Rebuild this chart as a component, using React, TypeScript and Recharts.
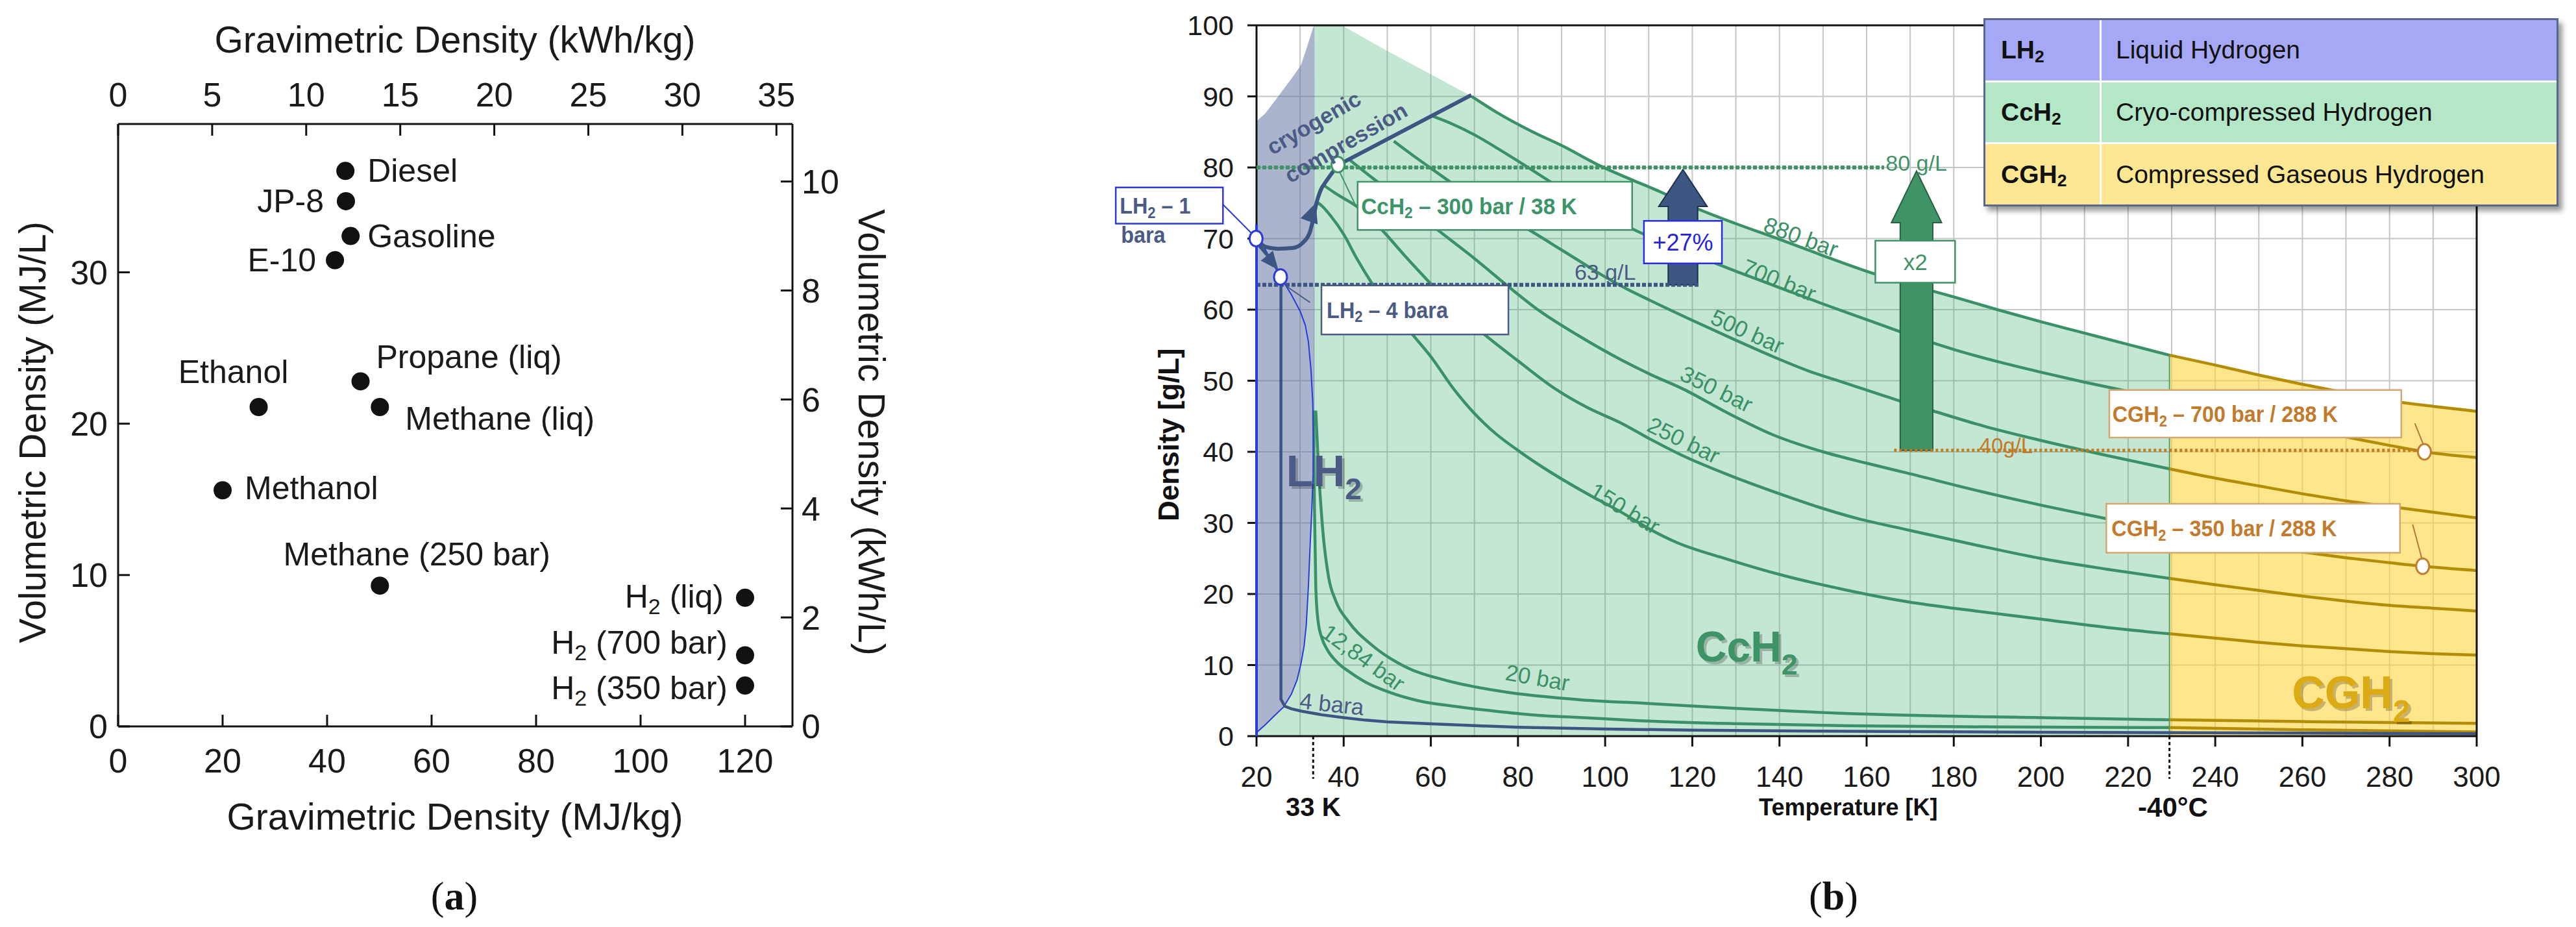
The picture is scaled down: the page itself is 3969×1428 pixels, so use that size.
import React from 'react';
import {
  ScatterChart, Scatter, XAxis, YAxis, ComposedChart, Line, Area,
  CartesianGrid, ReferenceLine, ReferenceArea,
} from 'recharts';

const FONT = "'Liberation Sans', Arial, Helvetica, sans-serif";
const SERIF = "'Liberation Serif', 'Times New Roman', serif";

/* ================= Panel (a) data ================= */
const fuelNames = ['Diesel', 'JP-8', 'Gasoline', 'E-10', 'Propane (liq)', 'Methane (liq)', 'Ethanol', 'Methanol', 'Methane (250 bar)', 'H_2 (liq)', 'H_2 (700 bar)', 'H_2 (350 bar)'];
const gravimetricMJkg = [43.5, 43.6, 44.5, 41.5, 46.4, 50.1, 26.9, 20.0, 50.1, 120, 120, 120];
const volumetricMJL = [36.7, 34.7, 32.4, 30.8, 22.8, 21.1, 21.1, 15.6, 9.3, 8.5, 4.7, 2.7];
const gravTicksMJ = [0, 20, 40, 60, 80, 100, 120];
const gravTicksKWh = [0, 5, 10, 15, 20, 25, 30, 35];
const volTicksMJ = [0, 10, 20, 30];
const volTicksKWh = [0, 2, 4, 6, 8, 10];
const MJ_PER_KWH = 3.6;
const GRAV_MAX = 129.07;
const VOL_MAX = 39.8;

const fuelData = fuelNames.map((name, i) => ({ name, x: gravimetricMJkg[i], y: volumetricMJL[i] }));

const fuelLabelPlacement: Record<string, { dx: number; dy: number; anchor: string }> = {
  'Diesel': { dx: 34, dy: 0, anchor: 'start' },
  'JP-8': { dx: -34, dy: 0, anchor: 'end' },
  'Gasoline': { dx: 26, dy: 0, anchor: 'start' },
  'E-10': { dx: -29, dy: 0, anchor: 'end' },
  'Propane (liq)': { dx: 24, dy: -37, anchor: 'start' },
  'Methane (liq)': { dx: 39, dy: 18, anchor: 'start' },
  'Ethanol': { dx: -39, dy: -54, anchor: 'middle' },
  'Methanol': { dx: 34, dy: -3, anchor: 'start' },
  'Methane (250 bar)': { dx: 57, dy: -48, anchor: 'middle' },
  'H_2 (liq)': { dx: -33, dy: -2, anchor: 'end' },
  'H_2 (700 bar)': { dx: -27, dy: -19, anchor: 'end' },
  'H_2 (350 bar)': { dx: -27, dy: 4, anchor: 'end' },
};

/* ================= Panel (b) data ================= */
const tempTicks = [20, 40, 60, 80, 100, 120, 140, 160, 180, 200, 220, 240, 260, 280, 300];
const densityTicks = [0, 10, 20, 30, 40, 50, 60, 70, 80, 90, 100];
const gridTemps = [20, 30, 40, 50, 60, 70, 80, 90, 100, 110, 120, 130, 140, 150, 160, 170, 180, 190, 200, 210, 220, 230, 240, 250, 260, 270, 280, 290, 300];
const gridDensities = [0, 10, 20, 30, 40, 50, 60, 70, 80, 90, 100];

// isobars in the cryo-compressed (green) zone
const iso880Cc = [[69.4, 90], [75, 87.8], [83.4, 85.0], [90, 83.1], [99.3, 80.1], [106, 78.3], [112.6, 76.6], [120, 74.5], [130, 72.1], [140, 69.9], [150, 67.6], [160, 65.4], [170, 63.5], [180, 61.8], [190, 60.0], [200, 58.3], [210, 56.7], [220, 55.1], [229.5, 53.6]];
const iso700Cc = [[60.5, 87.2], [65, 86.1], [70, 84.6], [75, 82.8], [80, 80.9], [90, 77.0], [100, 73.3], [110, 70.3], [120, 67.8], [130, 65.4], [140, 63.1], [150, 60.8], [160, 58.6], [170, 56.4], [180, 54.4], [190, 52.7], [200, 51.2], [210, 49.8], [220, 48.5], [229.5, 47.3]];
const iso500Cc = [[51.5, 83.7], [55, 82.1], [60, 79.9], [63.2, 78.5], [70, 75.6], [76, 73.4], [82.3, 71.3], [90, 68.4], [95, 66.5], [100, 64.6], [105, 62.9], [110, 61.4], [120, 58.5], [130, 55.7], [138.5, 53.4], [147, 51.3], [155, 49.7], [166.9, 47.3], [175, 45.8], [187, 43.6], [200, 41.6], [215, 39.5], [229.5, 37.6]];
const iso350Cc = [[41.5, 81.0], [45, 79.3], [50, 76.9], [55, 74.5], [61.6, 71.2], [70, 67.2], [77.5, 63.4], [85, 59.8], [94, 56.3], [103.8, 52.9], [110, 51.0], [118, 48.8], [128, 45.5], [138.5, 42.4], [150, 40.0], [160, 38.4], [169.4, 37.0], [185, 34.6], [200, 32.5], [215, 30.6], [229.5, 28.8]];
const iso250Cc = [[35.2, 77.6], [38, 76.4], [43.5, 74.3], [48.8, 71.2], [54, 67.6], [60.5, 63.3], [66, 59.8], [72.7, 56.3], [80, 52.8], [88.7, 48.8], [96, 46.2], [103.8, 44.0], [110, 41.9], [118, 39.4], [128.5, 36.7], [140, 34.1], [149.6, 32.1], [158, 30.6], [168.8, 29.1], [185, 26.9], [200, 25.0], [215, 23.5], [229.5, 22.2]];
const iso150Cc = [[33.7, 75.2], [35, 74.6], [37, 73.2], [40, 70.6], [43, 67.2], [46.7, 63.5], [51, 59.9], [56.2, 56.2], [60, 53.4], [65.3, 48.8], [70, 45.4], [75, 42.5], [80, 40.2], [85.5, 37.9], [95, 34.4], [104, 31.4], [110, 29.2], [116.2, 27.3], [128, 24.9], [140.9, 22.6], [155, 20.6], [169.4, 18.9], [185, 17.6], [200.9, 16.4], [215, 15.3], [229.5, 14.4]];
const iso20Cc = [[33.6, 45.8], [34.2, 38], [35.2, 29], [36.5, 22.5], [38.2, 19.0], [41, 16.2], [46.5, 12.8], [54, 9.8], [63.8, 7.8], [76.2, 6.3], [94.7, 5.1], [110, 4.6], [130, 3.9], [160, 3.1], [200, 2.6], [229.5, 2.3]];
const iso1284Cc = [[33.1, 45.8], [33.3, 32], [33.6, 21], [34.1, 16.3], [35, 13.8], [36.2, 12.2], [38.5, 10.4], [41.4, 9.0], [45, 7.6], [50.8, 6.1], [57, 5.0], [65.4, 4.2], [75, 3.5], [83.2, 3.0], [95, 2.6], [107.2, 2.2], [130, 1.75], [156, 1.45], [190, 1.3], [229.5, 1.2]];

// isobars in the compressed-gas (yellow) zone
const iso880Cg = [[229.5, 53.6], [240, 52.2], [250, 50.8], [260, 49.5], [270, 48.3], [280, 47.2], [290, 46.4], [300, 45.7]];
const iso700Cg = [[229.5, 47.3], [240, 45.9], [250, 44.6], [260, 43.3], [270, 42.1], [280, 40.9], [288, 40.0], [300, 39.2]];
const iso500Cg = [[229.5, 37.6], [240, 36.3], [250, 35.2], [260, 34.1], [270, 33.1], [280, 32.3], [290, 31.5], [300, 30.7]];
const iso350Cg = [[229.5, 28.8], [240, 27.7], [250, 26.7], [260, 25.9], [270, 25.1], [280, 24.4], [287.6, 23.9], [300, 23.3]];
const iso250Cg = [[229.5, 22.2], [240, 21.3], [250, 20.5], [260, 19.7], [270, 19.0], [280, 18.4], [290, 18.0], [300, 17.6]];
const iso150Cg = [[229.5, 14.4], [240, 13.8], [250, 13.2], [260, 12.7], [270, 12.3], [280, 11.9], [290, 11.6], [300, 11.4]];
const iso20Cg = [[229.5, 2.3], [260, 2.05], [300, 1.8]];
const iso1284Cg = [[229.5, 1.2], [260, 0.9], [300, 0.6]];

const iso4bara = [[25.6, 64.2], [25.6, 5.2], [26.5, 4.2], [28, 3.85], [30.5, 3.5], [35, 3.0], [40, 2.6], [45, 2.25], [50, 2.0], [60, 1.74], [70, 1.48], [80, 1.25], [100, 1.0], [120, 0.85], [150, 0.7], [200, 0.55], [250, 0.45], [300, 0.35]];

const saturationDome = [[20, 70.8], [22.5, 67.9], [25.5, 64.6], [28, 62.1], [30, 59.8], [31.2, 57.8], [31.9, 55.5], [32.5, 51.5], [32.9, 47], [33.05, 42], [33.0, 37], [32.7, 32], [32.3, 26.8], [31.9, 21], [31.4, 15.5], [30.9, 12.6], [30.2, 10.2], [29.3, 7.9], [28, 5.9], [26.2, 4.1], [24, 2.8], [22, 1.6], [20, 0.5]];

const cryoPathCurve = [[20, 69.9], [22.0, 68.85], [24.85, 68.57], [28.27, 68.67], [30.55, 69.37], [32.26, 70.94], [33.11, 73.04], [33.68, 74.79], [34.54, 76.54], [36.25, 78.29], [38.82, 80.38]];
const cryoPathStraight = [[38.82, 80.38], [69.3, 90.2]];
const lh2ArrowShaft = [[20.5, 69.1], [23.0, 67.3]];

// regions
const lh2RegionLow = [[20, 0.5], [22, 1.6], [24, 2.8], [26.2, 4.1], [28, 5.9], [29.3, 7.9], [30.2, 10.2], [31.4, 15.5], [32.3, 26.8], [33.0, 37], [33.3, 45]];
const lh2RegionHigh = [[20, 86.5], [22, 87.6], [24, 89.2], [26.2, 91.0], [28, 92.5], [29.3, 93.6], [30.2, 94.4], [31.4, 96.6], [32.3, 98.3], [33.0, 99.7], [33.3, 100]];
const ccRegionTop = [...lh2RegionLow.slice(0, 10), [33.3, 100], [39.6, 100], [50, 96.4], [60, 93.1], ...iso880Cc];
const cgRegionTop = iso880Cg;

/* ================= geometry ================= */
const PB = { left: 1936, top: 39, right: 3816, bottom: 1134 };
const CB = { left: 1650, top: 0, w: 2319, h: 1300 };
const T_MIN = 20, T_MAX = 300, D_MIN = 0, D_MAX = 100;
const pxT = (PB.right - PB.left) / (T_MAX - T_MIN);
const pxD = (PB.bottom - PB.top) / (D_MAX - D_MIN);
const ovX = [T_MIN - (PB.left - CB.left) / pxT, T_MAX + (CB.left + CB.w - PB.right) / pxT];
const ovY = [D_MIN - (CB.top + CB.h - PB.bottom) / pxD, D_MAX + (PB.top - CB.top) / pxD];

const pts = (arr: number[][]) => arr.map(([t, d]) => ({ t, d }));

const regionRows = (() => {
  const map = new Map<number, any>();
  const put = (t: number, k: string, v: any) => {
    if (!map.has(t)) map.set(t, { t });
    map.get(t)[k] = v;
  };
  ccRegionTop.forEach(([t, d]) => put(t, 'cc', d));
  cgRegionTop.forEach(([t, d]) => put(t, 'cg', d));
  lh2RegionLow.forEach(([t, lo], i) => put(t, 'lh2', [lo, lh2RegionHigh[i][1]]));
  return Array.from(map.values()).sort((a, b) => a.t - b.t);
})();

/* ================= annotations (panel b) ================= */
const GREEN = '#3b9167';
const GOLD = '#b38c08';
const SLATE = '#3c5583';
const SLATE_TXT = '#4b5b86';
const BLUE = '#2b3bd8';
const ORANGE_TXT = '#c27a2c';

const arrows = [
  { x1: 112.3, x2: 123.4, y1: 63.5, y2: 79.7, fill: '#3d5782', stroke: '#1f2f4f', shaft: 0.61, head: 0.32 },
  { x1: 165.7, x2: 177.2, y1: 40.2, y2: 79.5, fill: '#3f9467', stroke: '#2a5f44', shaft: 0.65, head: 0.185 },
];

const dottedLines = [
  { a: [20, 80], b: [164, 80], color: '#3f9467', w: 6, dash: '6 3' },
  { a: [20, 63.5], b: [121.5, 63.5], color: SLATE, w: 6, dash: '6 3' },
  { a: [166.3, 40.2], b: [288, 40.2], color: '#c47a20', w: 5, dash: '4 4' },
];

const leaders = [
  { a: [12.3, 74.8], b: [19.1, 70.6], color: BLUE },
  { a: [27.1, 63.2], b: [32.3, 61.0], color: SLATE_TXT },
  { a: [38.9, 79.6], b: [42.8, 74.6], color: '#3f9467' },
  { a: [285.8, 44.0], b: [287.9, 40.8], color: '#b07a3a' },
  { a: [285.3, 29.8], b: [287.5, 24.8], color: '#b07a3a' },
];

const boxes = [
  { x1: -12.3, x2: 12.3, y1: 72.1, y2: 77.2, stroke: BLUE },
  { x1: 34.9, x2: 77.8, y1: 56.5, y2: 63.4, stroke: SLATE_TXT },
  { x1: 43.2, x2: 106.2, y1: 71.2, y2: 78.0, stroke: '#3f9467' },
  { x1: 108.9, x2: 126.8, y1: 66.5, y2: 72.5, stroke: '#2b2be0' },
  { x1: 162, x2: 180.3, y1: 63.8, y2: 69.7, stroke: '#3f9467' },
  { x1: 215.7, x2: 282.7, y1: 42.0, y2: 48.7, stroke: '#d4a672' },
  { x1: 215.0, x2: 282.4, y1: 25.8, y2: 32.7, stroke: '#d4a672' },
];

const markers = [
  { t: 19.9, d: 70.0, stroke: BLUE },
  { t: 25.5, d: 64.6, stroke: BLUE },
  { t: 38.7, d: 80.4, stroke: '#3f9467' },
  { t: 288, d: 40.0, stroke: '#c0802f' },
  { t: 287.6, d: 23.9, stroke: '#c0802f' },
];

const heads = [
  { t: 33.6, d: 75.0, angle: -70, len: 30, wid: 28, color: SLATE },
  { t: 25.0, d: 65.6, angle: 51, len: 28, wid: 24, color: SLATE },
];

const notes: any[] = [
  { t: -11.4, d: 74.65, text: 'LH_2 – 1', size: 36, color: SLATE_TXT, anchor: 'start', weight: 'bold', sx: 0.9 },
  { t: -11.1, d: 70.6, text: 'bara', size: 36, color: SLATE_TXT, anchor: 'start', weight: 'bold', sx: 0.9 },
  { t: 36.1, d: 60.0, text: 'LH_2 – 4 bara', size: 36, color: SLATE_TXT, anchor: 'start', weight: 'bold', sx: 0.9 },
  { t: 44.0, d: 74.6, text: 'CcH_2 – 300 bar / 38 K', size: 36, color: '#3c9468', anchor: 'start', weight: 'bold', sx: 0.93 },
  { t: 117.85, d: 69.5, text: '+27%', size: 36, color: '#2424d6' },
  { t: 171.2, d: 66.75, text: 'x2', size: 35, color: '#3f9467' },
  { t: 216.4, d: 45.35, text: 'CGH_2 – 700 bar / 288 K', size: 36, color: ORANGE_TXT, anchor: 'start', weight: 'bold', sx: 0.9 },
  { t: 216.2, d: 29.25, text: 'CGH_2 – 350 bar / 288 K', size: 36, color: ORANGE_TXT, anchor: 'start', weight: 'bold', sx: 0.9 },
  { t: 171.4, d: 80.6, text: '80 g/L', size: 34, color: '#3f9467' },
  { t: 100, d: 65.3, text: '63 g/L', size: 34, color: SLATE_TXT },
  { t: 192, d: 40.9, text: '40g/L', size: 33, color: ORANGE_TXT },
  { t: 33.1, d: 86.3, text: 'cryogenic', size: 34, color: SLATE_TXT, angle: -30, weight: 'bold' },
  { t: 40.5, d: 83.5, text: 'compression', size: 34, color: SLATE_TXT, angle: -30, weight: 'bold' },
  { t: 145, d: 70.3, text: '880 bar', size: 35, color: GREEN, angle: 20 },
  { t: 140, d: 64.2, text: '700 bar', size: 35, color: GREEN, angle: 22 },
  { t: 132.7, d: 57.0, text: '500 bar', size: 35, color: GREEN, angle: 24 },
  { t: 125.6, d: 48.9, text: '350 bar', size: 35, color: GREEN, angle: 26 },
  { t: 118.1, d: 41.7, text: '250 bar', size: 35, color: GREEN, angle: 26 },
  { t: 104.6, d: 32.1, text: '150 bar', size: 35, color: GREEN, angle: 31 },
  { t: 84.5, d: 8.3, text: '20 bar', size: 35, color: GREEN, angle: 10 },
  { t: 44.6, d: 11.1, text: '12,84 bar', size: 35, color: GREEN, angle: 36 },
  { t: 37.3, d: 4.6, text: '4 bara', size: 35, color: SLATE_TXT, angle: 6 },
  { t: 26.8, d: 35.2, text: 'LH_2', size: 68, color: '#4b5b86', anchor: 'start', weight: 'bold', base: 'alpha', shadow: true },
  { t: 120.8, d: 10.5, text: 'CcH_2', size: 66, color: '#3f9467', anchor: 'start', weight: 'bold', base: 'alpha', shadow: true },
  { t: 257.6, d: 3.9, text: 'CGH_2', size: 70, color: '#dcaa14', anchor: 'start', weight: 'bold', base: 'alpha', shadow: true },
  { t: 155.8, d: -9.95, text: 'Temperature [K]', size: 36, color: '#111', weight: 'bold' },
  { t: 33, d: -9.95, text: '33 K', size: 40, color: '#111', weight: 'bold' },
  { t: 230.3, d: -9.95, text: '-40°C', size: 42, color: '#111', weight: 'bold' },
  { t: -0.26, d: 42.4, text: 'Density [g/L]', size: 44, color: '#111', weight: 'bold', angle: -90 },
];

const legendRows = [
  { code: 'LH_2', name: 'Liquid Hydrogen', bg: '#a6a8f6' },
  { code: 'CcH_2', name: 'Cryo-compressed Hydrogen', bg: '#b3e7c8' },
  { code: 'CGH_2', name: 'Compressed Gaseous Hydrogen', bg: '#fde793' },
];

/* ================= helpers ================= */
function chem(text: string, fs: number) {
  const parts = text.split('_2');
  const nodes: any[] = [];
  const sh = fs * 0.3;
  parts.forEach((p, i) => {
    if (i === 0) {
      if (p) nodes.push(<tspan key={`p${i}`}>{p}</tspan>);
      return;
    }
    nodes.push(<tspan key={`s${i}`} fontSize={fs * 0.68} dy={sh}>2</tspan>);
    if (p) nodes.push(<tspan key={`p${i}`} dy={-sh}>{p}</tspan>);
  });
  return nodes;
}

function chemHtml(text: string) {
  const parts = text.split('_2');
  const nodes: any[] = [];
  parts.forEach((p, i) => {
    if (i > 0) nodes.push(<span key={`s${i}`} style={{ fontSize: '0.68em', position: 'relative', top: '0.38em' }}>2</span>);
    if (p) nodes.push(<span key={`p${i}`}>{p}</span>);
  });
  return nodes;
}

const FuelDot = (props: any) => {
  const { cx, cy, payload } = props;
  const pl = fuelLabelPlacement[payload.name];
  return (
    <g>
      <circle cx={cx} cy={cy} r={14} fill="#111" />
      <text x={cx + pl.dx} y={cy + pl.dy} textAnchor={pl.anchor} dominantBaseline="central" fontSize={50} fontFamily={FONT} fill="#1a1a1a">
        {chem(payload.name, 50)}
      </text>
    </g>
  );
};

const NoteShape = (props: any) => {
  const { cx, cy, payload: n } = props;
  const tr = `translate(${cx} ${cy}) rotate(${n.angle || 0}) scale(${n.sx || 1} 1)`;
  const common = {
    textAnchor: n.anchor || 'middle',
    dominantBaseline: n.base === 'alpha' ? 'alphabetic' : 'central',
    fontSize: n.size,
    fontWeight: n.weight || 'normal',
    fontFamily: FONT,
  } as any;
  return (
    <g transform={tr}>
      {n.shadow ? (
        <text x={4} y={4} {...common} fill="rgba(0,0,0,0.22)">{chem(n.text, n.size)}</text>
      ) : null}
      <text x={0} y={0} {...common} fill={n.color}>{chem(n.text, n.size)}</text>
    </g>
  );
};

const MarkerShape = (props: any) => {
  const { cx, cy, payload: m } = props;
  return <ellipse cx={cx} cy={cy} rx={10} ry={12} fill="#fff" stroke={m.stroke} strokeWidth={3} />;
};

const HeadShape = (props: any) => {
  const { cx, cy, payload: h } = props;
  return (
    <polygon
      points={`0,0 ${-h.len},${-h.wid / 2} ${-h.len},${h.wid / 2}`}
      transform={`translate(${cx} ${cy}) rotate(${h.angle})`}
      fill={h.color}
    />
  );
};

const makeArrowShape = (a: any) => (p: any) => {
  const { x, y, width, height } = p;
  const cx = x + width / 2;
  const top = y;
  const bottom = y + height;
  const hw = width / 2;
  const sw = (width * a.shaft) / 2;
  const hb = top + height * a.head;
  const poly = `${cx},${top} ${cx + hw},${hb} ${cx + sw},${hb} ${cx + sw},${bottom} ${cx - sw},${bottom} ${cx - sw},${hb} ${cx - hw},${hb}`;
  return <polygon points={poly} fill={a.fill} stroke={a.stroke} strokeWidth={2} />;
};

const Overlay = ({ children }: { children: any }) => (
  <div style={{ position: 'absolute', left: CB.left, top: CB.top, width: CB.w, height: CB.h }}>
    <ComposedChart width={CB.w} height={CB.h} margin={{ top: 0, right: 0, bottom: 0, left: 0 }}>
      <XAxis hide type="number" dataKey="t" domain={ovX} allowDataOverflow />
      <YAxis hide type="number" dataKey="d" domain={ovY} allowDataOverflow />
      {children}
    </ComposedChart>
  </div>
);

const absText = (style: any, content: any) => (
  <div style={{ position: 'absolute', transform: 'translate(-50%, -50%)', whiteSpace: 'nowrap', fontFamily: FONT, color: '#1a1a1a', ...style }}>{content}</div>
);

/* ================= App ================= */
export default function App() {
  const axA = { stroke: '#111', strokeWidth: 3 };
  const tickA = { fontSize: 52, fill: '#1a1a1a', fontFamily: FONT };
  const axB = { stroke: '#111', strokeWidth: 3 };

  const ccLines = [iso880Cc, iso700Cc, iso500Cc, iso350Cc, iso250Cc, iso150Cc, iso20Cc, iso1284Cc];
  const cgLines = [iso880Cg, iso700Cg, iso500Cg, iso350Cg, iso250Cg, iso150Cg, iso20Cg, iso1284Cg];

  return (
    <div style={{ position: 'relative', width: 3969, height: 1428, background: '#fff', overflow: 'hidden' }}>
      <style>{'body{margin:0;}'}</style>

      {/* ---------- Panel (a) ---------- */}
      <div style={{ position: 'absolute', left: 0, top: 0 }}>
        <ScatterChart width={1400} height={1428} margin={{ top: 111, right: 99, bottom: 229, left: 102 }}>
          <XAxis xAxisId="mj" orientation="bottom" type="number" dataKey="x" domain={[0, GRAV_MAX]} ticks={gravTicksMJ} interval={0}
            height={80} tickSize={-18} tickMargin={52} axisLine={axA} tickLine={axA} tick={tickA} />
          <XAxis xAxisId="kwh" orientation="top" type="number" dataKey={(p: any) => p.x / MJ_PER_KWH} domain={[0, GRAV_MAX / MJ_PER_KWH]} ticks={gravTicksKWh} interval={0}
            height={80} tickSize={-18} tickMargin={45} axisLine={axA} tickLine={axA} tick={tickA} />
          <YAxis yAxisId="mj" orientation="left" type="number" dataKey="y" domain={[0, VOL_MAX]} ticks={volTicksMJ} interval={0}
            width={80} tickSize={-18} tickMargin={34} axisLine={axA} tickLine={axA} tick={tickA} />
          <YAxis yAxisId="kwh" orientation="right" type="number" dataKey={(p: any) => p.y / MJ_PER_KWH} domain={[0, VOL_MAX / MJ_PER_KWH]} ticks={volTicksKWh} interval={0}
            width={80} tickSize={-18} tickMargin={32} axisLine={axA} tickLine={axA} tick={tickA} />
          <Scatter xAxisId="kwh" yAxisId="kwh" data={fuelData} shape={() => <g />} isAnimationActive={false} />
          <Scatter xAxisId="mj" yAxisId="mj" data={fuelData} shape={FuelDot} isAnimationActive={false} />
        </ScatterChart>
      </div>
      {absText({ left: 701, top: 61, fontSize: 57 }, 'Gravimetric Density (kWh/kg)')}
      {absText({ left: 701, top: 1258, fontSize: 57 }, 'Gravimetric Density (MJ/kg)')}
      {absText({ left: 50, top: 666, fontSize: 57, transform: 'translate(-50%, -50%) rotate(-90deg)' }, 'Volumetric Density (MJ/L)')}
      {absText({ left: 1343, top: 666, fontSize: 57, transform: 'translate(-50%, -50%) rotate(90deg)' }, 'Volumetric Density (kWh/L)')}
      {absText({ left: 700, top: 1380, fontSize: 62, fontFamily: SERIF, color: '#111' }, <span>(<b>a</b>)</span>)}
      {absText({ left: 2825, top: 1380, fontSize: 62, fontFamily: SERIF, color: '#111' }, <span>(<b>b</b>)</span>)}

      {/* ---------- Panel (b) base ---------- */}
      <div style={{ position: 'absolute', left: CB.left, top: CB.top, width: CB.w, height: CB.h }}>
        <ComposedChart width={CB.w} height={CB.h} data={regionRows}
          margin={{ top: PB.top - CB.top, left: PB.left - CB.left - 100, right: CB.left + CB.w - PB.right, bottom: CB.top + CB.h - PB.bottom - 100 }}>
          <CartesianGrid verticalValues={gridTemps} horizontalValues={gridDensities} stroke="#c6c6c6" strokeWidth={2} />
          <XAxis type="number" dataKey="t" domain={[T_MIN, T_MAX]} ticks={tempTicks} interval={0} height={100}
            tickSize={16} tickMargin={31} axisLine={axB} tickLine={axB} tick={{ fontSize: 44, fill: '#1a1a1a', fontFamily: FONT }} />
          <YAxis type="number" domain={[D_MIN, D_MAX]} ticks={densityTicks} interval={0} width={100}
            tickSize={14} tickMargin={21} axisLine={axB} tickLine={axB} tick={{ fontSize: 43, fill: '#1a1a1a', fontFamily: FONT }} />
          <Area dataKey="cc" type="linear" stroke="none" fill="#3aae6c" fillOpacity={0.3} connectNulls dot={false} activeDot={false} isAnimationActive={false} />
          <Area dataKey="cg" type="linear" stroke="none" fill="#ffd640" fillOpacity={0.6} connectNulls dot={false} activeDot={false} isAnimationActive={false} />
          <Area dataKey="lh2" type="linear" stroke="none" fill="#55699a" fillOpacity={0.5} connectNulls dot={false} activeDot={false} isAnimationActive={false} />
          <ReferenceLine segment={[{ x: 229.5, y: 0 }, { x: 229.5, y: 53.6 }]} stroke="#4fa36f" strokeWidth={2} />
          {ccLines.map((arr, i) => (
            <Line key={`cc${i}`} data={pts(arr)} dataKey="d" type="monotone" stroke={GREEN} strokeWidth={4.5} dot={false} activeDot={false} isAnimationActive={false} />
          ))}
          {cgLines.map((arr, i) => (
            <Line key={`cg${i}`} data={pts(arr)} dataKey="d" type="monotone" stroke={GOLD} strokeWidth={4.5} dot={false} activeDot={false} isAnimationActive={false} />
          ))}
          <Line data={pts(saturationDome)} dataKey="d" type="linear" stroke={BLUE} strokeWidth={2} dot={false} activeDot={false} isAnimationActive={false} />
          <Line data={pts(iso4bara)} dataKey="d" type="linear" stroke={SLATE} strokeWidth={4.5} dot={false} activeDot={false} isAnimationActive={false} />
          <Line data={pts(cryoPathCurve)} dataKey="d" type="monotone" stroke={SLATE} strokeWidth={6} dot={false} activeDot={false} isAnimationActive={false} />
          <Line data={pts(cryoPathStraight)} dataKey="d" type="linear" stroke={SLATE} strokeWidth={6} dot={false} activeDot={false} isAnimationActive={false} />
          <ReferenceLine y={100} stroke="#111" strokeWidth={3} />
          <ReferenceLine x={300} stroke="#111" strokeWidth={3} />
        </ComposedChart>
      </div>

      {/* ---------- Panel (b) overlay 1: guide lines and arrows ---------- */}
      <Overlay>
        {dottedLines.map((l, i) => (
          <ReferenceLine key={`dl${i}`} segment={[{ x: l.a[0], y: l.a[1] }, { x: l.b[0], y: l.b[1] }]} stroke={l.color} strokeWidth={l.w} strokeDasharray={l.dash} ifOverflow="visible" />
        ))}
        <ReferenceLine segment={[{ x: 20, y: 0 }, { x: 20, y: 72 }]} stroke={BLUE} strokeWidth={4} ifOverflow="visible" />
        <ReferenceLine segment={[{ x: 33, y: 0 }, { x: 33, y: -6 }]} stroke="#111" strokeWidth={3} strokeDasharray="5 4" ifOverflow="visible" />
        <ReferenceLine segment={[{ x: 229.5, y: 0 }, { x: 229.5, y: -6 }]} stroke="#111" strokeWidth={3} strokeDasharray="5 4" ifOverflow="visible" />
        {leaders.map((l, i) => (
          <ReferenceLine key={`ld${i}`} segment={[{ x: l.a[0], y: l.a[1] }, { x: l.b[0], y: l.b[1] }]} stroke={l.color} strokeWidth={2} ifOverflow="visible" />
        ))}
        {arrows.map((a, i) => (
          <ReferenceArea key={`ar${i}`} x1={a.x1} x2={a.x2} y1={a.y1} y2={a.y2} ifOverflow="visible" shape={makeArrowShape(a)} />
        ))}
        <Line data={pts(lh2ArrowShaft)} dataKey="d" type="linear" stroke={SLATE} strokeWidth={5} dot={false} activeDot={false} isAnimationActive={false} />
      </Overlay>

      {/* ---------- Panel (b) overlay 2: callout boxes and markers ---------- */}
      <Overlay>
        {boxes.map((b, i) => (
          <ReferenceArea key={`bx${i}`} x1={b.x1} x2={b.x2} y1={b.y1} y2={b.y2} fill="#ffffff" fillOpacity={1} stroke={b.stroke} strokeWidth={2.5} ifOverflow="visible" />
        ))}
        <Scatter data={markers} shape={MarkerShape} isAnimationActive={false} />
      </Overlay>

      {/* ---------- Panel (b) overlay 3: texts ---------- */}
      <Overlay>
        <Scatter data={heads} shape={HeadShape} isAnimationActive={false} />
        <Scatter data={notes} shape={NoteShape} isAnimationActive={false} />
      </Overlay>

      {/* ---------- Legend table ---------- */}
      <div style={{
        position: 'absolute', left: 3056, top: 28, width: 886, height: 290, border: '3px solid #56698a', boxSizing: 'border-box',
        background: '#fff', boxShadow: '6px 7px 8px rgba(0,0,0,0.4)', display: 'flex', flexDirection: 'column', gap: 3,
        fontFamily: FONT, fontSize: 39, color: '#111',
      }}>
        {legendRows.map((r) => (
          <div key={r.code} style={{ flex: 1, display: 'flex', gap: 3 }}>
            <div style={{ width: 176, background: r.bg, display: 'flex', alignItems: 'center', paddingLeft: 24, boxSizing: 'border-box', fontWeight: 'bold' }}>{chemHtml(r.code)}</div>
            <div style={{ flex: 1, background: r.bg, display: 'flex', alignItems: 'center', paddingLeft: 22 }}>{r.name}</div>
          </div>
        ))}
      </div>
    </div>
  );
}
